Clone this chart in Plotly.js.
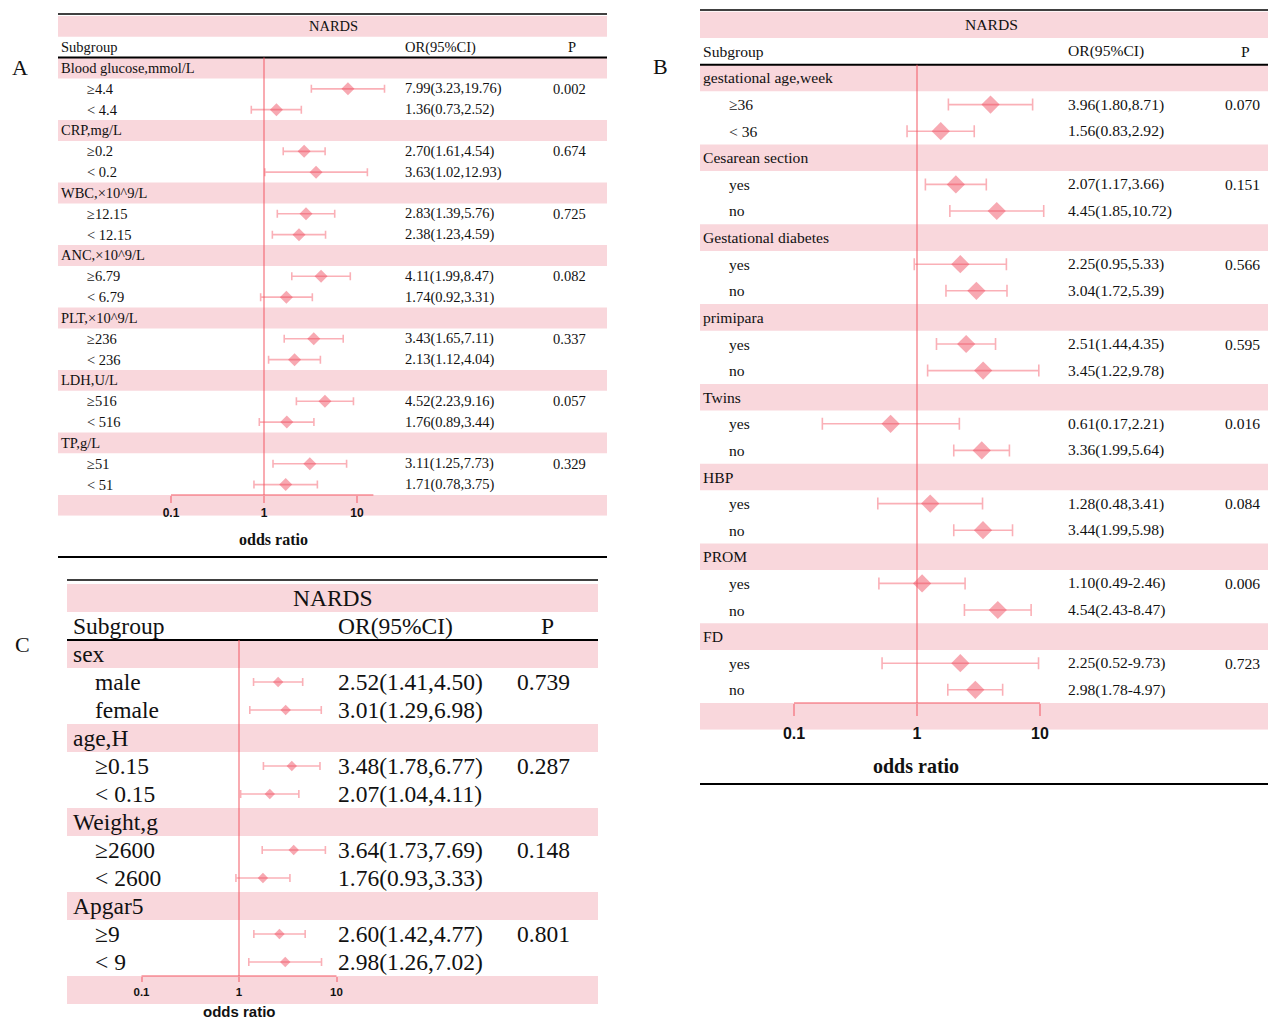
<!DOCTYPE html>
<html>
<head>
<meta charset="utf-8">
<script src="https://cdn.plot.ly/plotly-3.0.1.min.js"></script>
<style>
  html, body { margin: 0; padding: 0; background: #ffffff; }
  #chart { width: 1269px; height: 1027px; }
</style>
</head>
<body>
<div id="chart"></div>
<script>
// ---------- Panel A: laboratory indices ----------
const groupsA = ["Blood glucose,mmol/L", "CRP,mg/L", "WBC,×10^9/L", "ANC,×10^9/L", "PLT,×10^9/L", "LDH,U/L", "TP,g/L"];
const levelsA = [["≥4.4", "< 4.4"], ["≥0.2", "< 0.2"], ["≥12.15", "< 12.15"], ["≥6.79", "< 6.79"],
                 ["≥236", "< 236"], ["≥516", "< 516"], ["≥51", "< 51"]];
const orA = [7.99, 1.36, 2.70, 3.63, 2.83, 2.38, 4.11, 1.74, 3.43, 2.13, 4.52, 1.76, 3.11, 1.71];
const loA = [3.23, 0.73, 1.61, 1.02, 1.39, 1.23, 1.99, 0.92, 1.65, 1.12, 2.23, 0.89, 1.25, 0.78];
const hiA = [19.76, 2.52, 4.54, 12.93, 5.76, 4.59, 8.47, 3.31, 7.11, 4.04, 9.16, 3.44, 7.73, 3.75];
const pA = ["0.002", "0.674", "0.725", "0.082", "0.337", "0.057", "0.329"];
const sepA = [",", ",", ",", ",", ",", ",", ","];

// ---------- Panel B: maternal / pregnancy factors ----------
const groupsB = ["gestational age,week", "Cesarean section", "Gestational diabetes", "primipara", "Twins", "HBP", "PROM", "FD"];
const levelsB = [["≥36", "< 36"], ["yes", "no"], ["yes", "no"], ["yes", "no"],
                 ["yes", "no"], ["yes", "no"], ["yes", "no"], ["yes", "no"]];
const orB = [3.96, 1.56, 2.07, 4.45, 2.25, 3.04, 2.51, 3.45, 0.61, 3.36, 1.28, 3.44, 1.10, 4.54, 2.25, 2.98];
const loB = [1.80, 0.83, 1.17, 1.85, 0.95, 1.72, 1.44, 1.22, 0.17, 1.99, 0.48, 1.99, 0.49, 2.43, 0.52, 1.78];
const hiB = [8.71, 2.92, 3.66, 10.72, 5.33, 5.39, 4.35, 9.78, 2.21, 5.64, 3.41, 5.98, 2.46, 8.47, 9.73, 4.97];
const pB = ["0.070", "0.151", "0.566", "0.595", "0.016", "0.084", "0.006", "0.723"];
const sepB = [",", ",", ",", ",", ",", ",", "-", "-"];

// ---------- Panel C: neonatal factors ----------
const groupsC = ["sex", "age,H", "Weight,g", "Apgar5"];
const levelsC = [["male", "female"], ["≥0.15", "< 0.15"], ["≥2600", "< 2600"], ["≥9", "< 9"]];
const orC = [2.52, 3.01, 3.48, 2.07, 3.64, 1.76, 2.60, 2.98];
const loC = [1.41, 1.29, 1.78, 1.04, 1.73, 0.93, 1.42, 1.26];
const hiC = [4.50, 6.98, 6.77, 4.11, 7.69, 3.33, 4.77, 7.02];
const pC = ["0.739", "0.287", "0.148", "0.801"];
const sepC = [",", ",", ",", ","];

const oddsTicks = [0.1, 1, 10];
const oddsTickText = ["0.1", "1", "10"];
const headerTitle = "NARDS";
const headerCols = ["Subgroup", "OR(95%CI)", "P"];
const axisTitle = "odds ratio";

// ---------- page geometry ----------
const W = 1269, H = 1027;
const fx = px => px / W;
const fy = py => 1 - py / H;

const BAND = "#f9d7dc";
const RED_LINE = "rgba(244,88,100,0.5)";
const RED_BAR = "rgba(244,80,96,0.45)";
const RED_MARK = "rgba(238,64,84,0.45)";
const SERIF = "Liberation Serif, Times New Roman, serif";
const SANS = "Liberation Sans, Arial, sans-serif";

const panels = [
  { letter: "A", groups: groupsA, levels: levelsA, or: orA, lo: loA, hi: hiA, p: pA, sep: sepA,
    left: 58, right: 607, row0: 68, rowH: 20.83, one: 264, dec: 93, range: [-1.5, 1.5], axisEnd: 15,
    colGroup: 61, colLevel: 87, colOR: 405, colP: 553, headP: 572, nardsX: 333, font: 14.5,
    marker: 10, cap: 4, tickFont: { family: SANS, size: 12, weight: "bold" }, tickLen: 7, standoff: 0,
    titleFont: { family: SERIF, size: 16, weight: "bold" }, titleX: 273, titleY: 539,
    letterX: 20, letterY: 68, topRule: 14, bottomRule: 557 },
  { letter: "B", groups: groupsB, levels: levelsB, or: orB, lo: loB, hi: hiB, p: pB, sep: sepB,
    left: 700, right: 1268, row0: 78, rowH: 26.6, one: 917, dec: 123, range: [-1.3, 1.3], axisEnd: 10,
    colGroup: 703, colLevel: 729, colOR: 1068, colP: 1225, headP: 1245, nardsX: 991, font: 15.6,
    marker: 14, cap: 6, tickFont: { family: SANS, size: 16, weight: "bold" }, tickLen: 12, standoff: 4,
    titleFont: { family: SERIF, size: 20, weight: "bold" }, titleX: 916, titleY: 766,
    letterX: 660, letterY: 67, topRule: 10, bottomRule: 784 },
  { letter: "C", groups: groupsC, levels: levelsC, or: orC, lo: loC, hi: hiC, p: pC, sep: sepC,
    left: 67, right: 598, row0: 654, rowH: 28, one: 239, dec: 97.5, range: [-1.3, 1.3], axisEnd: 10,
    colGroup: 73, colLevel: 95, colOR: 338, colP: 517, headP: 547, nardsX: 333, font: 23.5,
    marker: 8, cap: 4, tickFont: { family: SANS, size: 11.5, weight: "bold" }, tickLen: 5, standoff: 0,
    titleFont: { family: SANS, size: 15, weight: "bold" }, titleX: 239, titleY: 1011,
    letterX: 22, letterY: 644, topRule: 580, bottomRule: null }
];

const data = [];
const shapes = [];
const annotations = [];
const layout = {
  width: W, height: H,
  margin: { l: 0, r: 0, t: 0, b: 0 },
  paper_bgcolor: "#ffffff",
  plot_bgcolor: "rgba(0,0,0,0)",
  showlegend: false,
  font: { family: SERIF, color: "#111111" }
};

panels.forEach((P, i) => {
  const n = i === 0 ? "" : String(i + 1);
  const xa = "x" + n, ya = "y" + n;

  // row layout: group header row followed by its level rows
  const rows = [];
  let r = 0;
  const levelRow = [];
  P.groups.forEach((g, gi) => {
    rows.push({ kind: "group", r: r++, gi });
    P.levels[gi].forEach((lv, li) => { levelRow.push(r); rows.push({ kind: "level", r: r++, gi, li }); });
  });
  const axisRow = r;
  const rowPx = k => P.row0 + P.rowH * k;

  layout["xaxis" + n] = {
    type: "log",
    range: P.range,
    domain: [fx(P.one + P.range[0] * P.dec), fx(P.one + P.range[1] * P.dec)],
    anchor: "free",
    position: fy(rowPx(axisRow - 0.5)),
    tickvals: oddsTicks,
    ticktext: oddsTickText,
    ticks: "outside",
    ticklen: P.tickLen,
    tickwidth: 2,
    tickcolor: RED_LINE,
    ticklabelstandoff: P.standoff,
    tickfont: Object.assign({ color: "#111111" }, P.tickFont),
    showgrid: false, zeroline: false, showline: false,
    fixedrange: true
  };
  layout["yaxis" + n] = {
    range: [axisRow + 0.5, -2.5],
    domain: [fy(rowPx(axisRow + 0.5)), fy(rowPx(-2.5))],
    anchor: xa,
    visible: false,
    fixedrange: true
  };

  // pink bands: title row, group rows, axis row
  const bandRows = [-2].concat(rows.filter(o => o.kind === "group").map(o => o.r), [axisRow]);
  bandRows.forEach(br => shapes.push({
    type: "rect", xref: "paper", yref: ya, layer: "below",
    x0: fx(P.left), x1: fx(P.right), y0: br - 0.5, y1: br + 0.5,
    fillcolor: BAND, line: { width: 0 }
  }));

  // table rules
  shapes.push({ type: "line", xref: "paper", yref: "paper", x0: fx(P.left), x1: fx(P.right),
    y0: fy(P.topRule), y1: fy(P.topRule), line: { color: "#000000", width: 1.6 } });
  shapes.push({ type: "line", xref: "paper", yref: ya, x0: fx(P.left), x1: fx(P.right),
    y0: -0.5, y1: -0.5, line: { color: "#000000", width: 2 } });
  if (P.bottomRule !== null) {
    shapes.push({ type: "line", xref: "paper", yref: "paper", x0: fx(P.left), x1: fx(P.right),
      y0: fy(P.bottomRule), y1: fy(P.bottomRule), line: { color: "#000000", width: 2 } });
  }

  // reference line at OR = 1 and the odds-ratio axis line
  shapes.push({ type: "line", xref: xa, yref: ya, x0: 1, x1: 1, y0: -0.5, y1: axisRow - 0.5,
    line: { color: RED_LINE, width: 2 } });
  shapes.push({ type: "line", xref: xa, yref: ya, x0: oddsTicks[0], x1: P.axisEnd,
    y0: axisRow - 0.5, y1: axisRow - 0.5, line: { color: RED_LINE, width: 2 } });

  // point estimates with 95% CI
  data.push({
    type: "scatter", mode: "markers", xaxis: xa, yaxis: ya,
    x: P.or, y: levelRow,
    marker: { symbol: "diamond", size: P.marker, color: RED_MARK, line: { width: 0 } },
    error_x: {
      type: "data", symmetric: false,
      array: P.hi.map((h, k) => h - P.or[k]),
      arrayminus: P.lo.map((l, k) => P.or[k] - l),
      color: RED_BAR, thickness: 1.6, width: P.cap
    },
    hoverinfo: "skip", cliponaxis: false
  });

  const txt = (text, x, y, anchor, font) => annotations.push({
    text, x: fx(x), xref: "paper", y, yref: ya, xanchor: anchor, yanchor: "middle",
    showarrow: false, borderpad: 0, borderwidth: 0,
    font: font || { family: SERIF, size: P.font, color: "#111111" }
  });

  // title row and column headers
  txt(headerTitle, P.nardsX, -2, "center");
  txt(headerCols[0], P.colGroup, -1, "left");
  txt(headerCols[1], P.colOR, -1, "left");
  txt(headerCols[2], P.headP, -1, "center");

  // body text
  let k = 0;
  rows.forEach(o => {
    if (o.kind === "group") {
      txt(P.groups[o.gi], P.colGroup, o.r, "left");
    } else {
      txt(P.levels[o.gi][o.li], P.colLevel, o.r, "left");
      const s = P.sep[o.gi];
      txt(P.or[k].toFixed(2) + "(" + P.lo[k].toFixed(2) + s + P.hi[k].toFixed(2) + ")", P.colOR, o.r, "left");
      if (o.li === 0) txt(P.p[o.gi], P.colP, o.r, "left");
      k++;
    }
  });

  // axis title and panel letter
  annotations.push({ text: axisTitle, xref: "paper", yref: "paper", x: fx(P.titleX), y: fy(P.titleY),
    xanchor: "center", yanchor: "middle", showarrow: false, font: Object.assign({ color: "#111111" }, P.titleFont) });
  annotations.push({ text: P.letter, xref: "paper", yref: "paper", x: fx(P.letterX), y: fy(P.letterY),
    xanchor: "center", yanchor: "middle", showarrow: false, font: { family: SERIF, size: 22, color: "#111111" } });
});

layout.shapes = shapes;
layout.annotations = annotations;

Plotly.newPlot("chart", data, layout, { staticPlot: true, displayModeBar: false });
</script>
</body>
</html>
